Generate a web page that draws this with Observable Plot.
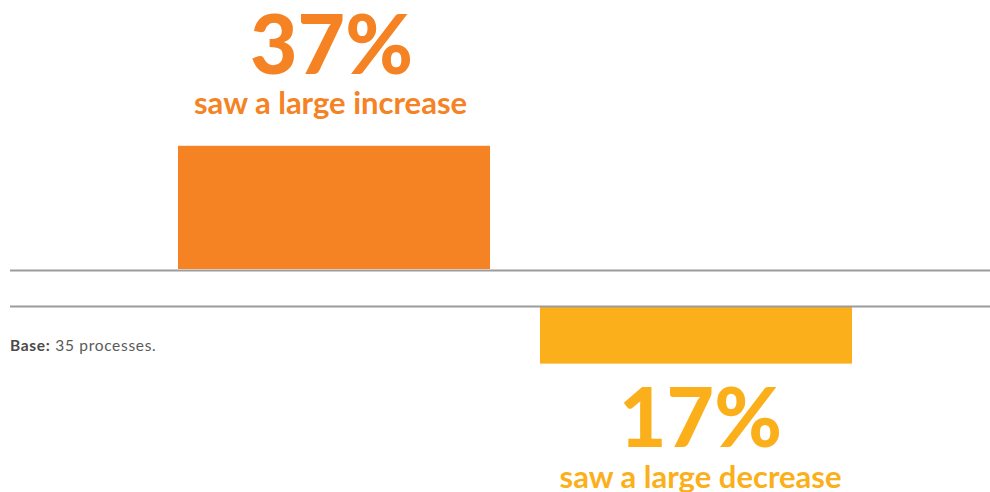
<!DOCTYPE html>
<html>
<head>
<meta charset="utf-8">
<script src="https://cdn.jsdelivr.net/npm/d3@7"></script>
<script src="https://cdn.jsdelivr.net/npm/@observablehq/plot@0.6"></script>
<style>
  html, body { margin: 0; padding: 0; background: #fff; }
  #wrap { position: relative; width: 990px; height: 492px; overflow: hidden; font-family: Lato, "Open Sans", sans-serif; }
  #top, #bottom { position: absolute; left: 0; }
  #top { top: 0; }
  #bottom { top: 272px; }
  #note { position: absolute; left: 10px; top: 336px; font-size: 15.5px; letter-spacing: 0.7px; color: #5a5a5a; font-family: Lato, sans-serif; }
  #note b { font-weight: 700; color: #4a4a4a; }
</style>
</head>
<body>
<div id="wrap">
  <div id="top"></div>
  <div id="bottom"></div>
  <div id="note"><b>Base:</b> 35 processes.</div>
</div>
<script>
const categories = ["increase", "decrease"];
const values = [37, 17];
const valueLabels = ["37%", "17%"];
const captions = ["saw a large increase", "saw a large decrease"];
const colors = ["#F58223", "#FBB01B"];

const data = categories.map((c, i) => ({cat: c, value: values[i], pct: valueLabels[i], caption: captions[i], color: colors[i]}));
const up = data.filter(d => d.cat === "increase");
const down = data.filter(d => d.cat === "decrease");

const xScale = {domain: categories, range: [177, 853], paddingInner: 0.1377, paddingOuter: 0};
const pxPerUnit = 3.33;

const topPlot = Plot.plot({
  width: 990, height: 272,
  marginLeft: 10, marginRight: 0, marginTop: 0, marginBottom: 0,
  x: {...xScale, axis: null},
  y: {domain: [0, 100], range: [269, 269 - 100 * pxPerUnit], axis: null},
  style: {fontFamily: "Lato, sans-serif", background: "transparent", overflow: "visible"},
  marks: [
    Plot.barY(up, {x: "cat", y: "value", fill: "color"}),
    Plot.ruleY([0], {stroke: "#9c9c9c", strokeWidth: 2, dy: 1}),
    Plot.text(up, {x: "cat", y: "value", text: "pct", fill: "color", fontSize: 82, fontWeight: 900, lineAnchor: "bottom", dy: -72, dx: -3}),
    Plot.text(up, {x: "cat", y: "value", text: "caption", fill: "color", fontSize: 31, fontWeight: 700, lineAnchor: "bottom", dy: -32, dx: -4, letterSpacing: 0.4})
  ]
});
document.getElementById("top").appendChild(topPlot);

const bottomPlot = Plot.plot({
  width: 990, height: 220,
  marginLeft: 10, marginRight: 0, marginTop: 0, marginBottom: 0,
  x: {...xScale, axis: null},
  y: {domain: [0, 100], range: [35, 35 + 100 * pxPerUnit], axis: null},
  style: {fontFamily: "Lato, sans-serif", background: "transparent"},
  marks: [
    Plot.barY(down, {x: "cat", y: "value", fill: "color"}),
    Plot.ruleY([0], {stroke: "#9c9c9c", strokeWidth: 2, dy: -1}),
    Plot.text(down, {x: "cat", y: "value", text: "pct", fill: "color", fontSize: 82, fontWeight: 900, lineAnchor: "bottom", dy: 83, dx: 4}),
    Plot.text(down, {x: "cat", y: "value", text: "caption", fill: "color", fontSize: 31, fontWeight: 700, lineAnchor: "bottom", dy: 124, dx: 4, letterSpacing: 0.4})
  ]
});
document.getElementById("bottom").appendChild(bottomPlot);
</script>
</body>
</html>
